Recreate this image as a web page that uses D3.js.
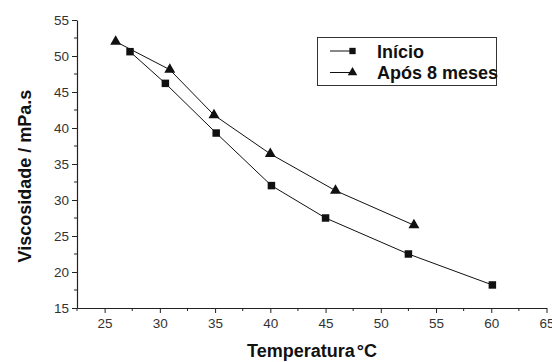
<!DOCTYPE html>
<html>
<head>
<meta charset="utf-8">
<script src="https://cdn.jsdelivr.net/npm/d3@7"></script>
<style>
    body { margin: 0; background: #fff; }
    svg { display: block; font-family: "Liberation Sans", Arial, sans-serif; }
</style>
</head>
<body>
<div id="chart"></div>
<script>
// temperatura (°C) e viscosidade (mPa.s)
const inicioTemp = [27.3, 30.5, 35.1, 40.1, 45.0, 52.5, 60.1];
const inicioVisc = [50.6, 46.2, 39.3, 32.0, 27.5, 22.5, 18.2];
const aposTemp = [26.0, 30.9, 34.9, 40.0, 45.9, 53.0];
const aposVisc = [52.0, 48.1, 41.8, 36.4, 31.3, 26.5];
const seriesNames = ['Início', 'Após 8 meses'];
const xTicks = [25, 30, 35, 40, 45, 50, 55, 60, 65];
const yTicks = [15, 20, 25, 30, 35, 40, 45, 50, 55];

const width = 552, height = 362;
const svg = d3.select('#chart').append('svg')
    .attr('width', width)
    .attr('height', height);

const x = d3.scaleLinear().domain([22.5, 65]).range([77, 546.5]);
const y = d3.scaleLinear().domain([15, 55]).range([308, 20]);

const axisColor = '#222';

// minor ticks
const xMinor = d3.range(22.5, 65, 5);
const yMinor = d3.range(17.5, 55, 5);

const gx = svg.append('g').attr('transform', `translate(0,${y(15)})`);
gx.call(d3.axisBottom(x).tickValues(xTicks).tickSize(5).tickSizeOuter(0).tickPadding(5));
gx.selectAll('.tick line').attr('stroke', axisColor);
gx.select('.domain').attr('stroke', axisColor).attr('stroke-width', 1.2);
gx.selectAll('.tick text').attr('font-size', 13.5).attr('fill', '#333')
    .attr('font-family', '"Liberation Sans", Arial, sans-serif');
gx.selectAll('.minor').data(xMinor).join('line')
    .attr('class', 'minor')
    .attr('x1', d => x(d)).attr('x2', d => x(d))
    .attr('y1', 0).attr('y2', 3)
    .attr('stroke', axisColor);

const gy = svg.append('g').attr('transform', `translate(${x(22.5)},0)`);
gy.call(d3.axisLeft(y).tickValues(yTicks).tickSize(5).tickSizeOuter(0).tickPadding(3));
gy.selectAll('.tick line').attr('stroke', axisColor);
gy.select('.domain').attr('stroke', axisColor).attr('stroke-width', 1.2);
gy.selectAll('.tick text').attr('font-size', 13.5).attr('fill', '#333')
    .attr('font-family', '"Liberation Sans", Arial, sans-serif');
gy.selectAll('.minor').data(yMinor).join('line')
    .attr('class', 'minor')
    .attr('x1', -3).attr('x2', 0)
    .attr('y1', d => y(d)).attr('y2', d => y(d))
    .attr('stroke', axisColor);

// series
const inicio = inicioTemp.map((t, i) => ({ t, v: inicioVisc[i] }));
const apos = aposTemp.map((t, i) => ({ t, v: aposVisc[i] }));

const line = d3.line().x(d => x(d.t)).y(d => y(d.v));
const square = d3.symbol().type(d3.symbolSquare).size(56);
const triangle = d3.symbol().type(d3.symbolTriangle).size(52);

[[inicio, square], [apos, triangle]].forEach(([data, sym]) => {
    svg.append('path')
        .datum(data)
        .attr('d', line)
        .attr('fill', 'none')
        .attr('stroke', '#111')
        .attr('stroke-width', 1);
    svg.append('g').selectAll('path')
        .data(data)
        .join('path')
        .attr('transform', d => `translate(${x(d.t)},${y(d.v)})`)
        .attr('d', sym)
        .attr('fill', '#111');
});

// legend
const legend = svg.append('g');
legend.append('rect')
    .attr('x', 317.5).attr('y', 37.5)
    .attr('width', 179).attr('height', 48)
    .attr('fill', 'none')
    .attr('stroke', '#333')
    .attr('stroke-width', 1);

const legendSquare = d3.symbol().type(d3.symbolSquare).size(40);
const legendTriangle = d3.symbol().type(d3.symbolTriangle).size(40);
const legendRows = [
    { name: seriesNames[0], sym: legendSquare, y: 51 },
    { name: seriesNames[1], sym: legendTriangle, y: 72.5 }
];
legendRows.forEach(r => {
    legend.append('line')
        .attr('x1', 330).attr('x2', 350)
        .attr('y1', r.y).attr('y2', r.y)
        .attr('stroke', '#111');
    legend.append('path')
        .attr('transform', `translate(352.5,${r.y})`)
        .attr('d', r.sym)
        .attr('fill', '#111');
    legend.append('text')
        .attr('x', 377).attr('y', r.y + 6.5)
        .attr('font-size', 18)
        .attr('font-weight', 'bold')
        .attr('fill', '#111')
        .text(r.name);
});

// axis titles
const xt = svg.append('text')
    .attr('x', 247).attr('y', 357)
    .attr('font-size', 18)
    .attr('font-weight', 'bold')
    .attr('fill', '#111');
xt.append('tspan').text('Temperatura');
xt.append('tspan').attr('dx', 2).text('°');
xt.append('tspan').attr('dx', 0).text('C');

svg.append('text')
    .attr('transform', 'translate(31,176) rotate(-90)')
    .attr('text-anchor', 'middle')
    .attr('font-size', 18)
    .attr('font-weight', 'bold')
    .attr('fill', '#111')
    .text('Viscosidade / mPa.s');
</script>
</body>
</html>
